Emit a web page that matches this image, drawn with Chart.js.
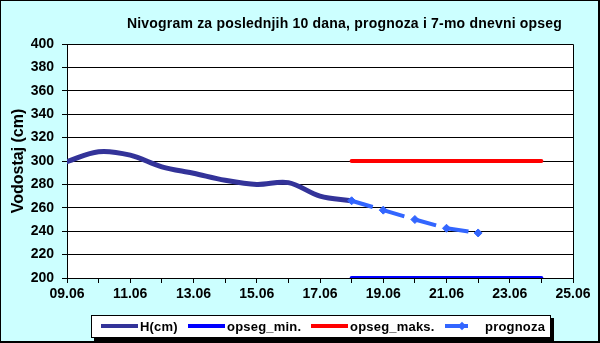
<!DOCTYPE html>
<html>
<head>
<meta charset="utf-8">
<script src="https://cdn.jsdelivr.net/npm/chart.js@4/dist/chart.umd.min.js"></script>
<style>
html,body{margin:0;padding:0;background:#fff;}
#wrap{position:relative;width:600px;height:343px;background:#CCFFFF;overflow:hidden;font-family:Arial,"Liberation Sans",sans-serif;}
#chart{position:absolute;left:0;top:0;}
#frame{position:absolute;left:0;top:0;width:600px;height:343px;box-sizing:border-box;border-left:1px solid #000;border-top:1px solid #000;border-right:2px solid #000;border-bottom:2px solid #000;pointer-events:none;}
#legendBox{position:absolute;left:91px;top:315px;width:460px;height:23px;box-sizing:border-box;background:#fff;border:1px solid #000;box-shadow:3px 3px 0 #000;}
.lg-line{position:absolute;height:4px;top:324px;}
.lg-text{position:absolute;top:319px;font:bold 13px Arial,"Liberation Sans",sans-serif;line-height:15px;color:#000;white-space:nowrap;letter-spacing:0.2px;}
.lg-mark{position:absolute;width:6px;height:6px;background:#3366FF;transform:rotate(45deg);top:323px;}
</style>
</head>
<body>
<div id="wrap">
  <canvas id="chart" width="600" height="343"></canvas>
  <div id="legendBox"></div>
  <div class="lg-line" style="left:101px;width:37px;background:#333399;"></div>
  <div class="lg-text" style="left:140px;">H(cm)</div>
  <div class="lg-line" style="left:188px;width:37px;background:#0000FF;"></div>
  <div class="lg-text" style="left:227px;">opseg_min.</div>
  <div class="lg-line" style="left:311px;width:37px;background:#FF0000;"></div>
  <div class="lg-text" style="left:350px;">opseg_maks.</div>
  <div class="lg-line" style="left:445px;width:23px;background:#3366FF;"></div>
  <div class="lg-mark" style="left:459px;"></div>
  <div class="lg-text" style="left:485px;">prognoza</div>
  <div id="frame"></div>
</div>
<script>
// ---- data ----
const titleText = 'Nivogram za poslednjih 10 dana, prognoza i 7-mo dnevni opseg';
const yTitle = 'Vodostaj (cm)';
const monthLabel = '06';
const hDays = [9, 10, 11, 12, 13, 14, 15, 16, 17, 18];
const hValues = [299.5, 308, 305, 295, 289.5, 283.5, 280, 281.5, 270, 266];
const rangeDays = [18, 24];
const rangeMin = [200, 200];
const rangeMax = [300, 300];
const forecastDays = [18, 19, 20, 21, 22];
const forecastValues = [266, 258, 250, 242.5, 238.5];
const xMin = 9, xMax = 25;
const yMin = 200, yMax = 400, yStep = 20;

const FONT = 'Arial, "Liberation Sans", sans-serif';
const pts = (xs, ys) => xs.map((x, i) => ({x: x, y: ys[i]}));
const dayLabel = v => (v < 10 ? '0' + v : '' + v) + '.' + monthLabel;

const plotFrame = {
  id: 'plotFrame',
  beforeDraw(c) {
    const a = c.chartArea, ctx = c.ctx;
    ctx.save();
    ctx.fillStyle = '#fff';
    ctx.fillRect(a.left, a.top, a.right - a.left, a.bottom - a.top);
    ctx.restore();
  },
  beforeDatasetsDraw(c) {
    const a = c.chartArea, ctx = c.ctx;
    ctx.save();
    ctx.strokeStyle = '#000';
    ctx.lineWidth = 1;
    ctx.beginPath();
    ctx.moveTo(a.left, Math.round(a.top) + 0.5);
    ctx.lineTo(Math.round(a.right) + 0.5, Math.round(a.top) + 0.5);
    ctx.lineTo(Math.round(a.right) + 0.5, a.bottom);
    ctx.stroke();
    ctx.restore();
  },
  afterDraw(c) {
    const ctx = c.ctx;
    ctx.save();
    ctx.font = 'bold 14px ' + FONT;
    if ('letterSpacing' in ctx) ctx.letterSpacing = '0.2px';
    ctx.fillStyle = '#000';
    ctx.textAlign = 'center';
    ctx.textBaseline = 'alphabetic';
    ctx.fillText(titleText, 344.5, 28);
    ctx.restore();
  }
};

new Chart(document.getElementById('chart'), {
  type: 'line',
  data: {
    datasets: [
      {
        label: 'prognoza', data: pts(forecastDays, forecastValues),
        borderColor: '#3366FF', backgroundColor: '#3366FF', borderWidth: 4,
        borderDash: [22, 11], tension: 0, pointStyle: 'rectRot', pointRadius: 4,
        pointBorderWidth: 1, pointBorderColor: '#3366FF', order: 0
      },
      {
        label: 'H(cm)', data: pts(hDays, hValues),
        borderColor: '#333399', borderWidth: 5, pointRadius: 0, tension: 0.35,
        borderCapStyle: 'round', borderJoinStyle: 'round', order: 1
      },
      {
        label: 'opseg_maks.', data: pts(rangeDays, rangeMax),
        borderColor: '#FF0000', borderWidth: 4, pointRadius: 0, borderCapStyle: 'round', order: 2
      },
      {
        label: 'opseg_min.', data: pts(rangeDays, rangeMin),
        borderColor: '#0000FF', borderWidth: 4, pointRadius: 0, borderCapStyle: 'round', order: 3
      }
    ]
  },
  options: {
    responsive: false,
    animation: false,
    events: [],
    layout: {padding: {top: 44, right: 27, bottom: 43, left: 0}},
    plugins: {legend: {display: false}, tooltip: {enabled: false}, title: {display: false}},
    scales: {
      x: {
        type: 'linear', min: xMin, max: xMax,
        ticks: {
          stepSize: 1, autoSkip: false, maxRotation: 0, minRotation: 0, padding: 3,
          color: '#000', font: {family: FONT, size: 14, weight: 'bold'},
          callback: v => (v % 2 === 1 ? dayLabel(v) : '')
        },
        grid: {drawOnChartArea: false, drawTicks: true, tickLength: 5, color: '#000', lineWidth: 1},
        border: {color: '#000', width: 1},
        afterFit: s => { s.height = 22; }
      },
      y: {
        min: yMin, max: yMax,
        ticks: {stepSize: yStep, padding: 8, color: '#000', font: {family: FONT, size: 14, weight: 'bold'}},
        grid: {color: '#000', lineWidth: 1, tickLength: 5},
        border: {color: '#000', width: 1},
        title: {display: true, text: yTitle, color: '#000', font: {family: FONT, size: 16, weight: 'bold'}, padding: {top: 9, bottom: 0}},
        afterFit: s => { s.width = 67; }
      }
    }
  },
  plugins: [plotFrame]
});
</script>
</body>
</html>
